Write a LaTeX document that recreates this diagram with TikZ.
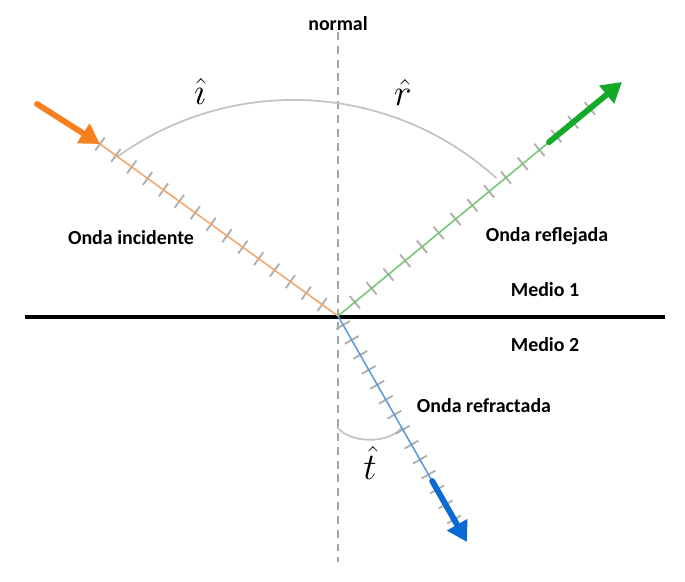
\RequirePackage{fix-cm}
\documentclass[tikz,border=0pt]{standalone}
\usepackage{fontspec}
\setmainfont{Carlito}
\usetikzlibrary{arrows.meta, calc}
\definecolor{orangearrow}{RGB}{247, 127, 30}
\definecolor{orangeline}{RGB}{242, 165, 105}
\definecolor{greenarrow}{RGB}{20, 170, 40}
\definecolor{greenline}{RGB}{110, 200, 110}
\definecolor{bluearrow}{RGB}{10, 105, 210}
\definecolor{blueline}{RGB}{90, 155, 215}
\definecolor{tickgray}{RGB}{175, 175, 175}
\definecolor{arcgray}{RGB}{195, 195, 195}
\definecolor{normalgray}{RGB}{165, 165, 165}

\begin{document}
\begin{tikzpicture}[
    x=0.03cm, y=-0.03cm,
    label/.style={font=\fontsize{17}{20}\selectfont\bfseries, text=black, inner sep=1pt},
    anglabel/.style={font=\fontsize{32}{36}\selectfont, inner sep=0pt},
    rayline/.style={line width=1.3pt},
    bigarrow/.style={line width=5pt, line cap=round, -{Triangle[length=17pt, width=19pt]}},
    tick/.style={tickgray, line width=1.6pt},
    anglearc/.style={arcgray, line width=1.5pt}
]
\useasboundingbox (0,0) rectangle (685,581);

% points
\coordinate (O) at (338,316);
\coordinate (istart) at (37,104);
\coordinate (itip) at (100,144);
\coordinate (rtip) at (622,82);
\coordinate (ttip) at (467,542);
\coordinate (ntop) at (338,32);
\coordinate (nbot) at (338,562);
\coordinate (sleft) at (25,317);
\coordinate (sright) at (665,317);

% normal and interface
\draw[normalgray, line width=2.1pt, dash pattern=on 6.8pt off 5pt] (ntop) -- (nbot);
\draw[black, line width=3.4pt] (sleft) -- (sright);

% angle arcs
\draw[anglearc] (117,157) arc[start angle=-125.8, end angle=-47.8, radius=302];
\draw[anglearc] (337,427) .. controls (350,444) and (390,444) .. (402,427);

% incident wave
\foreach \i in {0,...,14}
    \draw[tick] ($($(itip)!\i/15!(O)$)!6.8pt!90:(O)$) -- ($($(itip)!\i/15!(O)$)!6.8pt!-90:(O)$);
\draw[rayline, orangeline] (itip) -- (O);
\draw[bigarrow, orangearrow] (istart) -- (itip);

% reflected wave
\foreach \i in {1,...,15}
    \draw[tick] ($($(O)!\i*0.887/15!(rtip)$)!6.8pt!90:(O)$) -- ($($(O)!\i*0.887/15!(rtip)$)!6.8pt!-90:(O)$);
\draw[rayline, greenline] (O) -- ($(O)!0.743!(rtip)$) coordinate (rthick);
\draw[bigarrow, greenarrow] (rthick) -- (rtip);

% refracted wave
\foreach \i in {1,...,14}
    \draw[tick] ($($(O)!{(\i-0.4)*0.9/13.6}!(ttip)$)!6.8pt!90:(O)$) -- ($($(O)!{(\i-0.4)*0.9/13.6}!(ttip)$)!6.8pt!-90:(O)$);
\draw[rayline, blueline] (O) -- ($(O)!0.73!(ttip)$) coordinate (tthick);
\draw[bigarrow, bluearrow] (tthick) -- (ttip);

% labels
\node[label] (normal) at (338,24) {normal};
\node[label] (incid) at (131,238) {Onda incidente};
\node[label] (refl) at (547,236) {Onda reflejada};
\node[label] (medio1) at (545,290) {Medio 1};
\node[label] (medio2) at (545,345) {Medio 2};
\node[label] (refr) at (484,406) {Onda refractada};
\node[anglabel] (ihat) at (200,91) {$\hat{\imath}$};
\node[anglabel] (rhat) at (403,92) {$\hat{r}$};
\node[anglabel] (that) at (370,463) {$\hat{t}$};

\end{tikzpicture}
\end{document}
